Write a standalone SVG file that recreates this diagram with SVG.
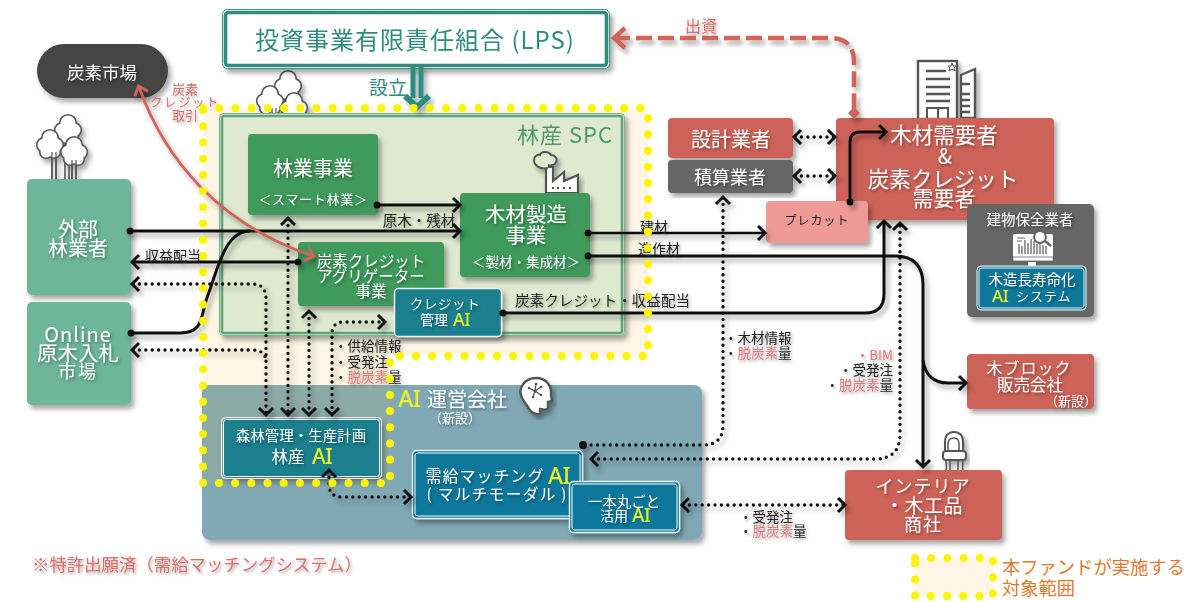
<svg xmlns="http://www.w3.org/2000/svg" xmlns:xlink="http://www.w3.org/1999/xlink" width="1200" height="602" viewBox="0 0 1200 602">
<style>
text{font-family:"Noto Sans CJK JP","Noto Sans",sans-serif;dominant-baseline:central;text-anchor:middle}
.w{fill:#fff;filter:url(#ts)}
.k{fill:#222;filter:url(#ts)}
.l{text-anchor:start}
.r{text-anchor:end}
.p{fill:#d9706a;filter:url(#ts)}
.pi{fill:#e0777a}
.y{fill:#e6f02c;font-family:"Noto Sans",sans-serif;font-weight:500;letter-spacing:-.5px}
.box{filter:url(#bs)}
.line{fill:none;stroke:#111;stroke-width:3}
.thin{fill:none;stroke:#111;stroke-width:2.6}
.dot{fill:none;stroke:#111;stroke-width:3.4;stroke-linecap:round;stroke-dasharray:0 6.4}
.ab{marker-start:url(#chevs);marker-end:url(#chev)}
</style>
<defs>
<filter id="bs" x="-10%" y="-10%" width="125%" height="125%"><feDropShadow dx="3" dy="4" stdDeviation="2.5" flood-color="#000" flood-opacity=".35"/></filter>
<filter id="ts" x="-10%" y="-20%" width="125%" height="150%"><feDropShadow dx="1.5" dy="2" stdDeviation="1.5" flood-color="#000" flood-opacity=".35"/></filter>
<marker id="chev" markerUnits="userSpaceOnUse" markerWidth="20" markerHeight="20" refX="11" refY="10" orient="auto"><path d="M5 3 L12 10 L5 17" fill="none" stroke="#111" stroke-width="3"/></marker>
<marker id="chevs" markerUnits="userSpaceOnUse" markerWidth="20" markerHeight="20" refX="9" refY="10" orient="auto"><path d="M15 3 L8 10 L15 17" fill="none" stroke="#111" stroke-width="3"/></marker>
<marker id="red" markerUnits="userSpaceOnUse" markerWidth="20" markerHeight="20" refX="11" refY="10" orient="auto"><path d="M4 3 L12 10 L4 17" fill="none" stroke="#d1655a" stroke-width="3"/></marker>
<marker id="reds" markerUnits="userSpaceOnUse" markerWidth="20" markerHeight="20" refX="9" refY="10" orient="auto"><path d="M16 3 L8 10 L16 17" fill="none" stroke="#d1655a" stroke-width="3"/></marker>
<g id="blob"><circle cx="0" cy="-8" r="7.500"/><circle cx="-6" cy="-1" r="6.500"/><circle cx="6" cy="-1" r="6.500"/><circle cx="-4" cy="6" r="5.500"/><circle cx="4" cy="6" r="5.500"/><circle cx="0" cy="0" r="7"/></g>
<g id="tree">
<path d="M52 179V150M56 179V150M65 179V135M69 179V135M72 179V155M76 179V155" fill="none" stroke="#555" stroke-width="1.600"/>
<use href="#blob" transform="translate(68,131)" fill="#555" stroke="#555" stroke-width="3.200"/><use href="#blob" transform="translate(68,131)" fill="#fff"/>
<use href="#blob" transform="translate(50,146)" fill="#555" stroke="#555" stroke-width="3.200"/><use href="#blob" transform="translate(50,146)" fill="#fff"/>
<use href="#blob" transform="translate(74,153)" fill="#555" stroke="#555" stroke-width="3.200"/><use href="#blob" transform="translate(74,153)" fill="#fff"/>
<path d="M52 179V152M56 179V152M72 179V160M76 179V160" fill="none" stroke="#555" stroke-width="1.200"/>
</g>
</defs>

<path id="scope-fill" d="M203 108H648V356H390V483H203Z" fill="#fdf6e6"/>
<rect x="915" y="558" width="78" height="38" fill="#fdf6e6"/>

<g id="icon-trees-left" class="box"><use href="#tree"/></g>
<g id="icon-trees-spc" class="box"><use href="#tree" transform="translate(220,-44)"/></g>

<g id="node-lps" class="box">
<rect x="222.500" y="9.500" width="387" height="59" rx="5" fill="#fff" stroke="#3d9284" stroke-width="1"/>
<rect x="225.500" y="12.500" width="381" height="53" rx="3" fill="#fff" stroke="#2f8d7e" stroke-width="3.600"/>
<text x="415" y="38" font-size="24" fill="#2f8d7e" letter-spacing="1">投資事業有限責任組合 (LPS)</text>
</g>
<text id="label-setsuritsu" x="388" y="86" font-size="19" fill="#2f8d7e">設立</text>

<g id="node-carbon-market" class="box"><rect x="37" y="44" width="131" height="54" rx="27" fill="#444"/>
<text class="w" x="102" y="71" font-size="17.500">炭素市場</text></g>

<g id="node-gaibu" class="box"><rect x="27" y="179" width="104" height="116" rx="5" fill="#6db698"/>
<text class="w" x="78" y="228" font-size="20">外部</text><text class="w" x="78" y="247" font-size="20">林業者</text></g>
<g id="node-online" class="box"><rect x="27" y="302" width="104" height="103" rx="5" fill="#6db698"/>
<text class="w" x="78" y="333" font-size="20" letter-spacing="1">Online</text><text class="w" x="78" y="352" font-size="20.500">原木入札</text><text class="w" x="78" y="370" font-size="18" letter-spacing="2">市場</text></g>

<g id="node-ai-company"><rect class="box" x="202" y="385" width="500" height="155" rx="8" fill="#80a9b5"/>
<path d="M202 393a8 8 0 0 1 8-8H390V483H202Z" fill="#8caaa8"/>
<text x="398" y="398" font-size="23" class="y l">AI</text>
<text class="w l" x="427" y="398" font-size="20">運営会社</text>
<text class="w" x="455" y="417" font-size="13">（新設）</text></g>

<g id="node-spc" class="box"><rect x="219.500" y="113.500" width="405" height="222" rx="4" fill="#dfe9d0" stroke="#7ab593" stroke-width="1"/>
<rect x="222" y="116" width="400" height="217" rx="2" fill="#dfe9d0" stroke="#5fa67f" stroke-width="2.600"/>
<text x="565" y="133" font-size="22" letter-spacing="1" fill="#4d9a6a">林産 SPC</text></g>

<g id="icon-factory" class="box"><path d="M546 193V167H553V181L564 172V181L578 175V193Z" fill="#fff" stroke="#555" stroke-width="2.200"/>
<path d="M548 168c-8 2-14-3-14-8c0-4 4-6 6-5c1-4 9-4 11 0c4 0 7 4 5 7c-1 3-5 4-8 3" fill="#dfe9d0" stroke="#555" stroke-width="2"/>
<path d="M552 188h2M557 188h2M563 188h2M569 188h2" stroke="#555" stroke-width="2"/></g>

<g id="node-ringyo" class="box"><rect x="248" y="134" width="130" height="81" rx="4" fill="#3f9a5c"/>
<text class="w" x="313" y="167" font-size="20">林業事業</text>
<text class="w" x="313" y="198" font-size="13" letter-spacing=".7">＜スマート林業＞</text></g>
<g id="node-mokuzai" class="box"><rect x="460" y="193" width="130" height="84" rx="4" fill="#3f9a5c"/>
<text class="w" x="526" y="213" font-size="20.500">木材製造</text><text class="w" x="526" y="234" font-size="20.500">事業</text>
<text class="w" x="526" y="261" font-size="13.500">＜製材・集成材＞</text></g>
<g id="node-aggregator" class="box"><rect x="298" y="242" width="146" height="64" rx="4" fill="#3f9a5c"/>
<text class="w" x="371" y="260" font-size="15.500">炭素クレジット</text><text class="w" x="371" y="275" font-size="15.500">アグリゲーター</text><text class="w" x="371" y="290" font-size="15.500">事業</text></g>
<g id="node-credit-ai" class="box"><rect x="394.500" y="288.500" width="107" height="48" rx="4" fill="#1a7f8e" stroke="#e8f3ef" stroke-width="1.500"/>
<text class="w" x="445" y="303" font-size="13.500" letter-spacing=".6">クレジット</text>
<text x="434" y="319" font-size="14" class="w">管理</text><text x="453" y="319" font-size="18" class="y l">AI</text></g>

<g id="node-ringyo-ai" class="box"><rect x="221.500" y="417.500" width="160" height="61" rx="4" fill="none" stroke="#eef" stroke-width="1"/>
<rect x="223.500" y="419.500" width="156" height="57" rx="3" fill="#1a7f8e" stroke="#f0f5f0" stroke-width="1"/>
<text class="w" x="301" y="434" font-size="14.500">森林管理・生産計画</text>
<text class="w" x="288" y="456" font-size="16.500">林産</text><text x="312" y="456" font-size="21" class="y l">AI</text></g>
<g id="node-matching-ai" class="box"><rect x="412.500" y="450.500" width="170" height="68" rx="4" fill="#0f789c" stroke="#e8f3ef" stroke-width="1.400"/>
<rect x="415" y="453" width="165" height="63" rx="3" fill="none" stroke="#fff" stroke-width="1"/>
<text class="w" x="485" y="475" font-size="16" letter-spacing="1">需給マッチング</text><text x="548" y="475" font-size="23" class="y l">AI</text>
<text class="w" x="497" y="493" font-size="16" letter-spacing="1">( マルチモーダル )</text></g>
<g id="node-ippon-ai" class="box"><rect x="569.500" y="481.500" width="110" height="51" rx="4" fill="#0f789c" stroke="#e8f3ef" stroke-width="1.400"/>
<rect x="572" y="484" width="105" height="46" rx="3" fill="none" stroke="#fff" stroke-width="1"/>
<text class="w" x="624" y="500" font-size="14.500">一本丸ごと</text>
<text class="w" x="614" y="515" font-size="14">活用</text><text x="632" y="515" font-size="19" class="y l">AI</text></g>

<g id="icon-head" class="box"><path d="M522 398c-5-10 3-20 14-20c11 0 16 9 15 17l1 6l-4 1v5c0 3-2 3-8 2v5c-6 1-9-2-11-5c-1-3-3-4-7-11z" fill="#fff" stroke="#555" stroke-width="2.400"/>
<path d="M535 391L529 388M535 391L541 387M535 391L533 397M535 391L541 395M535 391L536 384" stroke="#555" stroke-width="1.200"/>
<g fill="#555"><circle cx="535" cy="391" r="1.800"/><circle cx="529" cy="388" r="1.300"/><circle cx="541" cy="387" r="1.300"/><circle cx="533" cy="397" r="1.300"/><circle cx="541" cy="395" r="1.300"/><circle cx="536" cy="384" r="1.300"/></g></g>

<g id="node-sekkei" class="box"><rect x="668" y="118" width="125" height="40" rx="4" fill="#cd6358"/><text class="w" x="731" y="138" font-size="20">設計業者</text></g>
<g id="node-sekisan" class="box"><rect x="668" y="160" width="125" height="33" rx="4" fill="#666"/><text class="w" x="730" y="176" font-size="18">積算業者</text></g>

<g id="icon-building" class="box"><rect x="918" y="61" width="39" height="58" fill="#fff" stroke="#555" stroke-width="2.400"/>
<path d="M926 71H946M926 79H950M926 87H950M926 94H950M926 101H950" stroke="#555" stroke-width="2.400"/>
<path d="M927 118V108H948V118M938 108V118" fill="none" stroke="#555" stroke-width="2"/>
<path d="M952 63L953 66H956L954 68L955 71L952 69L949 71L950 68L948 66H951Z" fill="#fff" stroke="#555" stroke-width="1"/>
<path d="M961 75L975 69V118H961Z" fill="#fff" stroke="#555" stroke-width="2.400"/>
<path d="M962 84H970M962 94H970M962 100H970M962 106H970M962 112H970" stroke="#555" stroke-width="2.400"/></g>

<g id="node-demand" class="box"><rect x="836" y="118" width="218" height="102" rx="4" fill="#cd6358"/>
<text class="w" x="944" y="133" font-size="21.500">木材需要者</text><text class="w" x="945" y="155" font-size="21">&amp;</text>
<text class="w" x="943" y="177" font-size="21.500">炭素クレジット</text><text class="w" x="944" y="197" font-size="21">需要者</text></g>
<g id="node-precut" class="box"><rect x="766" y="201" width="102" height="42" rx="4" fill="#ef9a96"/><text x="817" y="219" font-size="12" fill="#222" letter-spacing="1">プレカット</text></g>

<g id="node-maintenance" class="box"><rect x="967" y="204" width="127" height="113" rx="5" fill="#666"/>
<text class="w" x="1030" y="218" font-size="14.500">建物保全業者</text>
<g id="icon-monitor"><rect x="1013" y="234" width="40" height="27" rx="2" fill="#fff"/><rect x="1013" y="257" width="40" height="4" fill="#fff" stroke="#666" stroke-width=".8"/><rect x="1028" y="262" width="8" height="4" fill="#fff"/>
<path d="M1019 254V244M1022 254V246M1025 254V240M1028 254V243M1031 254V239M1034 254V241M1037 254V244M1040 254V241M1043 254V245M1046 254V246" stroke="#666" stroke-width="1.300"/>
<path d="M1017 238h8M1017 241h5" stroke="#666" stroke-width="1"/>
<circle cx="1040" cy="237" r="6" fill="#fff" stroke="#666" stroke-width="1.800"/><path d="M1045 241L1051 246" stroke="#666" stroke-width="2.400"/></g>
<rect x="977" y="266" width="109" height="44" rx="4" fill="#0f789c" stroke="#fff" stroke-width="1"/><rect x="979" y="268" width="105" height="40" rx="3" fill="none" stroke="#e8f3ef" stroke-width="1"/>
<text class="w" x="1032" y="278" font-size="14.500">木造長寿命化</text>
<text x="992" y="295" font-size="17" class="y l">AI</text><text class="w l" x="1016" y="295" font-size="13" letter-spacing="1">システム</text></g>

<g id="node-block" class="box"><rect x="967" y="354" width="127" height="55" rx="4" fill="#cd6358"/>
<text class="w" x="1029" y="367" font-size="16" letter-spacing="1">木ブロック</text><text class="w" x="1030" y="384" font-size="16.500">販売会社</text><text class="w" x="1071" y="400" font-size="13">（新設）</text></g>

<g id="icon-chair" class="box"><path d="M945 452V442C945 434 950 432 954 432C958 432 963 434 963 442V452" fill="#fff" stroke="#555" stroke-width="2"/><path d="M948 450V444C948 439 951 438 954 438C957 438 959 439 959 444V450" fill="none" stroke="#555" stroke-width="1.500"/><rect x="943" y="451" width="23" height="9" rx="3" fill="#fff" stroke="#555" stroke-width="2"/><path d="M946 460C946 464 947 467 946 470M950 460V470M958 460V470M963 460C963 464 962 467 963 470" fill="none" stroke="#555" stroke-width="1.500"/></g>
<g id="node-interior" class="box"><rect x="845" y="470" width="157" height="70" rx="4" fill="#cd6358"/>
<text class="w" x="923" y="485" font-size="18" letter-spacing="1">インテリア</text><text class="w" x="924" y="504" font-size="19" letter-spacing=".5">・木工品</text><text class="w" x="923" y="523" font-size="18" letter-spacing="1">商社</text></g>

<g id="connectors" class="box">
<path class="line" d="M130 231H459" marker-end="url(#chev)"/>
<path class="line" d="M131 333H180C205 333 200 315 208 295C218 268 225 231 250 231"/>
<path class="line" d="M377 205H459" marker-end="url(#chev)"/>
<path class="thin" d="M588 233H764" marker-end="url(#chev)"/>
<path class="line" d="M588 256H895Q923 256 923 285V466" marker-end="url(#chev)"/>
<path class="line" d="M923 360C925 376 935 383 948 383H965" marker-end="url(#chev)"/>
<path class="line" d="M503 313H865Q884 313 884 294V222" marker-end="url(#chev)"/>
<path class="line" d="M298 262H133" marker-end="url(#chev)"/>
<path class="line" d="M850 202V142Q850 132 860 132H885" marker-end="url(#chev)"/>
<g fill="#111"><circle cx="130" cy="231" r="3.500"/><circle cx="131" cy="333" r="3.500"/><circle cx="377" cy="205" r="3.500"/><circle cx="588" cy="233" r="3.500"/><circle cx="588" cy="256" r="3.500"/><circle cx="503" cy="313" r="3.500"/><circle cx="298" cy="262" r="3.500"/><circle cx="850" cy="202" r="3.500"/><circle cx="583" cy="445" r="4"/></g>
<path class="dot ab" d="M133 284H252Q266 284 266 298V414"/>
<path class="dot" d="M133 350H252Q266 350 266 362" marker-start="url(#chevs)"/>
<path class="dot ab" d="M288 219V414"/>
<path class="dot ab" d="M309 312V414"/>
<path class="dot ab" d="M332 414V334Q332 322 344 322H384"/>
<path class="dot ab" d="M329 471V484Q329 497 342 497H410"/>
<path class="dot" d="M723 198V425Q723 445 703 445H584" marker-start="url(#chevs)"/>
<path class="dot ab" d="M592 459H875Q900 459 900 434V224"/>
<path class="dot ab" d="M683 505H844"/>
<path class="dot ab" d="M795 137H834"/>
<path class="dot ab" d="M795 176H834"/>
<path d="M614 38H830Q854 38 854 62V112" fill="none" stroke="#d1655a" stroke-width="4.500" stroke-dasharray="16 6"/>
<path d="M625 28L614 38L625 48" fill="none" stroke="#d1655a" stroke-width="4.500"/>
<path d="M854 107L860 113L854 119L848 113Z" fill="#d1655a"/>
<path d="M139 87C165 160 220 225 313 256" fill="none" stroke="#d1655a" stroke-width="2.800" marker-start="url(#reds)" marker-end="url(#red)"/>
<path d="M413 66V98M421 66V98" stroke="#2f8d7e" stroke-width="5" fill="none"/>
<path d="M405 96L417 107L429 96" stroke="#2f8d7e" stroke-width="6" fill="none"/>
</g>

<g id="labels">
<text class="p" x="185" y="88" font-size="13">炭素</text>
<text class="p" x="185" y="101" font-size="12.500" letter-spacing="1.500">クレジット</text>
<text class="p" x="185" y="114" font-size="13">取引</text>
<text class="p" x="701" y="25" font-size="16">出資</text>
<text class="k l" x="145" y="255" font-size="14">収益配当</text>
<text class="k" x="419" y="219" font-size="14.500">原木・残材</text>
<text class="k l" x="640" y="226" font-size="14">建材</text>
<text class="k l" x="638" y="248" font-size="14">造作材</text>
<text class="k l" x="515" y="299" font-size="14.600">炭素クレジット・収益配当</text>
<text class="k l" x="334" y="345" font-size="13.500">・供給情報</text>
<text class="k l" x="334" y="361" font-size="13.500">・受発注</text>
<text class="k l" x="334" y="376" font-size="13.500">・<tspan class="pi">脱炭素</tspan>量</text>
<text class="k l" x="724" y="337" font-size="13.500">・木材情報</text>
<text class="k l" x="724" y="352" font-size="13.500">・<tspan class="pi">脱炭素</tspan>量</text>
<text class="k r" x="893" y="354" font-size="13.500"><tspan class="pi">・BIM</tspan></text>
<text class="k r" x="893" y="369" font-size="13.500">・受発注</text>
<text class="k r" x="893" y="384" font-size="13.500">・<tspan class="pi">脱炭素</tspan>量</text>
<text class="k l" x="739" y="516" font-size="13.500">・受発注</text>
<text class="k l" x="739" y="530" font-size="13.500">・<tspan class="pi">脱炭素</tspan>量</text>
<text class="p l" x="32" y="563" font-size="17.400">※特許出願済（需給マッチングシステム）</text>
<text class="l" x="1002" y="566" font-size="18.300" fill="#e07b2e">本ファンドが実施する</text>
<text class="l" x="1002" y="587" font-size="18.300" fill="#e07b2e">対象範囲</text>
</g>

<g id="scope-dots" fill="none" stroke="#fbf500" stroke-width="8" stroke-linecap="round" stroke-dasharray="0 16.200">
<path d="M203 108H644Q648 108 648 112V356H390V483H203Z"/>
<path d="M915 558H993V596H915Z"/>
</g>
</svg>
